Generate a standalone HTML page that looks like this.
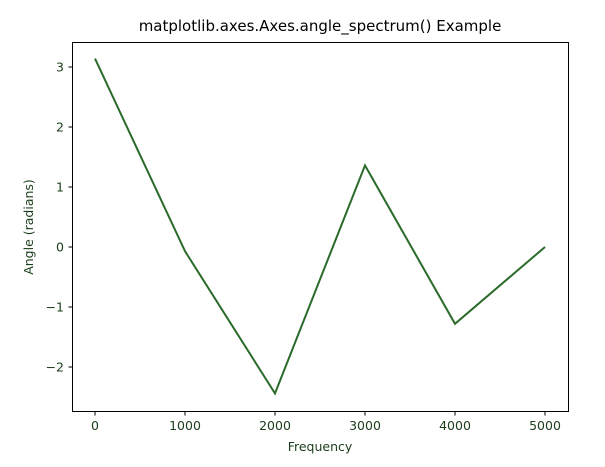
<!DOCTYPE html>
<html><head><meta charset="utf-8"><style>
body{margin:0;background:#fff;}
text{font-family:"DejaVu Sans","Liberation Sans",sans-serif;}
</style></head><body>
<svg id="chart" width="605" height="462" xmlns="http://www.w3.org/2000/svg">
<rect width="605" height="462" fill="#fff"/>
<text x="320" y="31" text-anchor="middle" font-size="15" fill="#000">matplotlib.axes.Axes.angle_spectrum() Example</text>
<g id="ticks"></g>
<path id="line" fill="none" stroke="#2a6a2a" stroke-width="2"/>
<rect x="72.5" y="42.5" width="496" height="369" fill="none" stroke="#000" stroke-width="1"/>
<text x="320" y="451" text-anchor="middle" font-size="12.5" fill="#1a3d1a">Frequency</text>
<text transform="translate(33,227) rotate(-90)" text-anchor="middle" font-size="12.5" fill="#1a3d1a">Angle (radians)</text>
</svg>
<script>
const freqs=[0,1000,2000,3000,4000,5000];
const angles=[3.14,-0.07,-2.44,1.36,-1.28,0.0];
const xTicks=[0,1000,2000,3000,4000,5000];
const yTicks=[-2,-1,0,1,2,3];
const yTickLabels=["\u22122","\u22121","0","1","2","3"];
function xs(v){return 95+v*(545-95)/5000;}
function ys(v){return 247-v*60;}
const ns="http://www.w3.org/2000/svg";
document.getElementById('line').setAttribute('d',freqs.map((f,i)=>(i?'L':'M')+xs(f)+','+ys(angles[i])).join(''));
const g=document.getElementById('ticks');
xTicks.forEach(t=>{
 const l=document.createElementNS(ns,'line');
 
 
 l.setAttribute('x1',xs(t));l.setAttribute('x2',xs(t));l.setAttribute('y1',411.5);l.setAttribute('y2',415.5);l.setAttribute('stroke','#000');
 g.appendChild(l);
 const tx=document.createElementNS(ns,'text');
 
 
 tx.setAttribute('x',xs(t));tx.setAttribute('y',430);tx.setAttribute('text-anchor','middle');tx.setAttribute('font-size','12.5');tx.setAttribute('fill','#1a3d1a');
 tx.textContent=t;g.appendChild(tx);
});
yTicks.forEach((t,i)=>{
 const l=document.createElementNS(ns,'line');
 
 
 l.setAttribute('x1',68.5);l.setAttribute('x2',72.5);l.setAttribute('y1',ys(t));l.setAttribute('y2',ys(t));l.setAttribute('stroke','#000');
 g.appendChild(l);
 const tx=document.createElementNS(ns,'text');
 
 
 tx.setAttribute('x',64);tx.setAttribute('y',ys(t)+4.5);tx.setAttribute('text-anchor','end');tx.setAttribute('font-size','12.5');tx.setAttribute('fill','#1a3d1a');
 tx.textContent=yTickLabels[i];g.appendChild(tx);
});
</script>
</body></html>
